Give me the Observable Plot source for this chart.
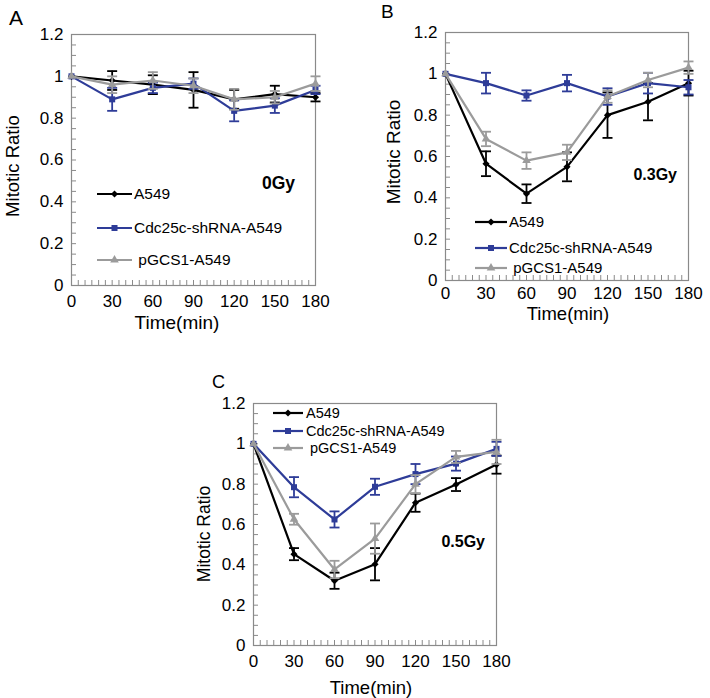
<!DOCTYPE html>
<html><head><meta charset="utf-8">
<script src="https://cdn.jsdelivr.net/npm/d3@7"></script>
<script src="https://cdn.jsdelivr.net/npm/@observablehq/plot@0.6"></script>
<style>
html,body{margin:0;padding:0;background:#fff;}
#root{position:relative;width:710px;height:698px;font-family:"Liberation Sans",Arial,sans-serif;}
#root > svg{position:absolute;}
</style></head><body><div id="root"></div>
<script>
// ---- data ----
const times = [0, 30, 60, 90, 120, 150, 180];
const seriesNames = ["A549", "Cdc25c-shRNA-A549", "\u00a0pGCS1-A549"];
const panelLetters = ["A", "B", "C"];
const doseLabels = ["0Gy", "0.3Gy", "0.5Gy"];
const xTicks = [0, 30, 60, 90, 120, 150, 180];
const yTicks = [0, 0.2, 0.4, 0.6, 0.8, 1, 1.2];
const yLabel = "Mitotic Ratio";
const xLabel = "Time(min)";

// 0 Gy
const a549_0Gy      = [1.00, 0.98, 0.96, 0.935, 0.89, 0.915, 0.90];
const a549_0Gy_err  = [0, 0.045, 0.045, 0.085, 0.045, 0.04, 0.02];
const cdc_0Gy       = [1.00, 0.89, 0.945, 0.965, 0.835, 0.86, 0.935];
const cdc_0Gy_err   = [0, 0.055, 0.025, 0.025, 0.05, 0.035, 0.02];
const pgcs_0Gy      = [1.00, 0.96, 0.98, 0.955, 0.89, 0.90, 0.965];
const pgcs_0Gy_err  = [0, 0.04, 0.04, 0.035, 0.05, 0.03, 0.035];
// 0.3 Gy
const a549_03Gy     = [1.00, 0.565, 0.42, 0.55, 0.80, 0.865, 0.955];
const a549_03Gy_err = [0, 0.06, 0.045, 0.07, 0.11, 0.09, 0.06];
const cdc_03Gy      = [1.00, 0.955, 0.895, 0.955, 0.89, 0.955, 0.935];
const cdc_03Gy_err  = [0, 0.05, 0.025, 0.04, 0.04, 0.05, 0.035];
const pgcs_03Gy     = [1.00, 0.685, 0.58, 0.62, 0.89, 0.97, 1.03];
const pgcs_03Gy_err = [0, 0.035, 0.04, 0.037, 0.03, 0.035, 0.03];
// 0.5 Gy
const a549_05Gy     = [1.00, 0.453, 0.321, 0.403, 0.708, 0.798, 0.897];
const a549_05Gy_err = [0, 0.03, 0.04, 0.08, 0.045, 0.032, 0.045];
const cdc_05Gy      = [1.00, 0.785, 0.625, 0.787, 0.85, 0.902, 0.975];
const cdc_05Gy_err  = [0, 0.05, 0.04, 0.04, 0.05, 0.035, 0.035];
const pgcs_05Gy     = [1.00, 0.626, 0.377, 0.53, 0.80, 0.935, 0.96];
const pgcs_05Gy_err = [0, 0.027, 0.043, 0.075, 0.045, 0.03, 0.06];

// ---- styles ----
const colors = ["#000000", "#2e3c98", "#9b9b9b"];
const symbols = ["diamond2", "square", "triangle"];
const d3symbols = [d3.symbolDiamond2, d3.symbolSquare, d3.symbolTriangle];
const symbolR = [3.2, 3.4, 3.2];
const frameColor = "#8a8a8a";
const font = "'Liberation Sans', Arial, Helvetica, sans-serif";

const capSymbol = {draw(ctx) { ctx.moveTo(-5, 0); ctx.lineTo(5, 0); }};

const panels = [
  {left: 0, top: 0, width: 355, height: 335, mt: 34, ml: 71, mr: 40, mb: 50, xPad: 9, yPad: 8,
   series: [[a549_0Gy, a549_0Gy_err], [cdc_0Gy, cdc_0Gy_err], [pgcs_0Gy, pgcs_0Gy_err]],
   letter: {x: 9, y: 25, size: 21},
   ylab: {x: 13, y: 166, size: 18.5},
   xlab: {x: 177, y: 329, size: 19},
   dose: {x: 295, y: 189, size: 17.5},
   legend: {x1: 97, x2: 132, tx: 134, rows: [194, 228, 260], size: 15.5}},
  {left: 355, top: 0, width: 355, height: 335, mt: 32, ml: 90, mr: 22, mb: 55, xPad: 6, yPad: 8,
   series: [[a549_03Gy, a549_03Gy_err], [cdc_03Gy, cdc_03Gy_err], [pgcs_03Gy, pgcs_03Gy_err]],
   letter: {x: 26, y: 18, size: 19},
   ylab: {x: 38, y: 152, size: 19},
   xlab: {x: 213, y: 320, size: 18.5},
   dose: {x: 322, y: 180, size: 16},
   legend: {x1: 120, x2: 152, tx: 154, rows: [222, 248, 268], size: 15}},
  {left: 180, top: 340, width: 360, height: 358, mt: 63, ml: 73, mr: 44, mb: 53, xPad: 9, yPad: 8,
   series: [[a549_05Gy, a549_05Gy_err], [cdc_05Gy, cdc_05Gy_err], [pgcs_05Gy, pgcs_05Gy_err]],
   letter: {x: 32, y: 48, size: 18},
   ylab: {x: 24, y: 194, size: 17.5},
   xlab: {x: 191, y: 354, size: 18.5},
   dose: {x: 305, y: 207, size: 16},
   legend: {x1: 93, x2: 123, tx: 126, rows: [73, 91, 108], size: 14.5}}
];

function annotations(p, idx) {
  return () => {
    const g = d3.create("svg:g").attr("font-family", font).attr("fill", "black");
    g.append("text").attr("x", p.letter.x).attr("y", p.letter.y).attr("text-anchor", "start")
      .attr("font-size", p.letter.size).text(panelLetters[idx]);
    g.append("text").attr("transform", `translate(${p.ylab.x},${p.ylab.y}) rotate(-90)`)
      .attr("text-anchor", "middle").attr("dy", "0.35em")
      .attr("font-size", p.ylab.size).text(yLabel);
    g.append("text").attr("x", p.xlab.x).attr("y", p.xlab.y).attr("text-anchor", "middle")
      .attr("font-size", p.xlab.size).text(xLabel);
    g.append("text").attr("x", p.dose.x).attr("y", p.dose.y).attr("text-anchor", "end")
      .attr("font-weight", "bold").attr("font-size", p.dose.size).text(doseLabels[idx]);
    const L = p.legend;
    seriesNames.forEach((name, si) => {
      const cy = L.rows[si];
      g.append("line").attr("x1", L.x1).attr("x2", L.x2).attr("y1", cy).attr("y2", cy)
        .attr("stroke", colors[si]).attr("stroke-width", 2.2);
      g.append("path").attr("transform", `translate(${(L.x1 + L.x2) / 2},${cy})`)
        .attr("d", d3.symbol(d3symbols[si], symbolR[si] * symbolR[si] * Math.PI)())
        .attr("fill", colors[si]);
      g.append("text").attr("x", L.tx).attr("y", cy).attr("dy", "0.35em").attr("text-anchor", "start")
        .attr("font-size", L.size).text(name);
    });
    return g.node();
  };
}

function makePanel(p, idx) {
  const fw = p.width - p.ml - p.mr, fh = p.height - p.mt - p.mb;
  const xMinor = d3.range(5, 180, 5);
  const yMinor = d3.range(1, 24).map(i => +(i * 0.05).toFixed(2));
  const marks = [
    Plot.frame({stroke: frameColor, strokeWidth: 1.2}),
    Plot.tickX(xMinor, {x: d => d, stroke: frameColor, strokeWidth: 1, insetTop: fh - 5}),
    Plot.tickY(yMinor, {y: d => d, stroke: frameColor, strokeWidth: 1, insetRight: fw - 5}),
    Plot.axisX({ticks: xTicks, tickSize: 0, tickPadding: p.xPad, fontSize: 17, label: null, tickFormat: d => String(d)}),
    Plot.axisY({ticks: yTicks, tickSize: 0, tickPadding: p.yPad, fontSize: 17, label: null, tickFormat: d => String(d)})
  ];
  p.series.forEach(([vals, errs], si) => {
    const rows = vals.map((v, i) => ({t: times[i], v, e: errs[i]}));
    const eb = rows.filter(r => r.e > 0);
    const c = colors[si];
    marks.push(
      Plot.ruleX(eb, {x: "t", y1: r => r.v - r.e, y2: r => r.v + r.e, stroke: c, strokeWidth: 1.8}),
      Plot.dot(eb, {x: "t", y: r => r.v + r.e, symbol: capSymbol, r: 3, stroke: c, fill: "none", strokeWidth: 1.8}),
      Plot.dot(eb, {x: "t", y: r => r.v - r.e, symbol: capSymbol, r: 3, stroke: c, fill: "none", strokeWidth: 1.8}),
      Plot.line(rows, {x: "t", y: "v", stroke: c, strokeWidth: 2.2}),
      Plot.dot(rows, {x: "t", y: "v", symbol: symbols[si], r: symbolR[si], fill: c, stroke: "none"})
    );
  });
  marks.push(annotations(p, idx));
  const svg = Plot.plot({
    width: p.width, height: p.height,
    marginTop: p.mt, marginLeft: p.ml, marginRight: p.mr, marginBottom: p.mb,
    x: {domain: [0, 180], label: null},
    y: {domain: [0, 1.2], label: null},
    style: {fontFamily: font, fontSize: "17px", color: "black", background: "transparent", overflow: "visible"},
    marks
  });
  svg.style.left = p.left + "px";
  svg.style.top = p.top + "px";
  return svg;
}

const root = document.getElementById("root");
panels.forEach((p, i) => root.appendChild(makePanel(p, i)));
</script>
</body></html>
